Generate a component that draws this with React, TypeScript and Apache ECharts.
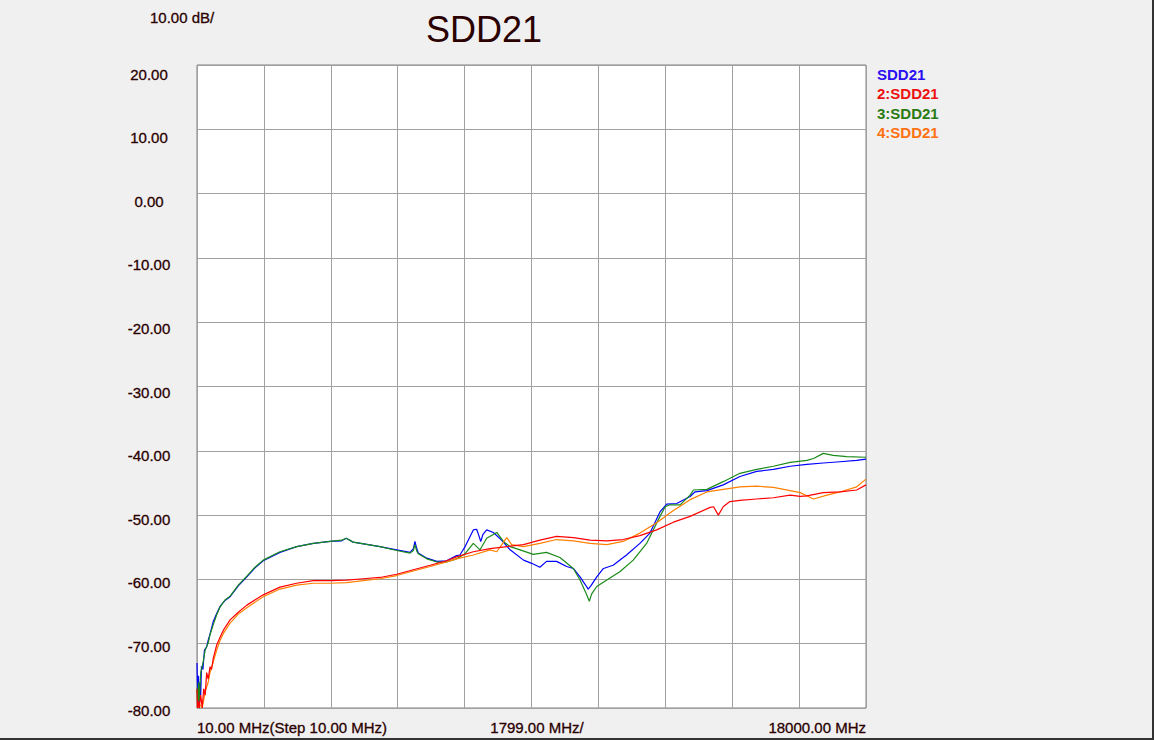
import React, { useEffect, useRef } from "react";
import * as echarts from "echarts";

// ---- axis / text definitions ----
const fStart = 10;
const fStop = 18000;
const fStep = 1799;
const yMin = -80;
const yMax = 20;
const yStep = 10;
const titleText = "SDD21";
const scaleText = "10.00 dB/";
const xLabels = ["10.00 MHz(Step 10.00 MHz)", "1799.00 MHz/", "18000.00 MHz"];
const seriesNames = ["SDD21", "2:SDD21", "3:SDD21", "4:SDD21"];
const seriesColors = ["#0000ff", "#ff0000", "#1a8a1a", "#ff8000"];
const legendColors = ["#2a10f0", "#ee1010", "#2a7a12", "#ff7010"];

// ---- data: [frequency MHz, dB] ----
const sdd21: [number, number][] = [
  [10, -73], [30, -79.5], [50, -75], [70, -80], [90, -76], [110, -78], [130, -73.5],
  [170, -74], [210, -71], [270, -70.5], [310, -69.5], [360, -68.5], [450, -66.5],
  [540, -65.3], [630, -64.2], [760, -63.3], [900, -62.7], [1120, -61], [1350, -59.6],
  [1570, -58.2], [1790, -57.1], [2240, -55.8], [2690, -54.9], [3140, -54.4], [3590, -54.1],
  [3900, -54], [4020, -53.6], [4210, -54.2], [4930, -54.9], [5380, -55.4], [5740, -55.8],
  [5830, -55.2], [5870, -54.1], [5920, -55.2], [5960, -55.9], [6190, -56.7], [6460, -57.2],
  [6720, -57.1], [6990, -56.3], [7080, -56.2], [7220, -54.9], [7440, -52.3], [7530, -52.2],
  [7590, -53.2], [7640, -54.1], [7700, -53.0], [7800, -52.3], [7980, -52.7], [8200, -53.9],
  [8430, -55.4], [8790, -57.0], [9010, -57.5], [9230, -58.1], [9410, -57.2], [9680, -57.2],
  [9950, -58.0], [10130, -58.3], [10310, -59.6], [10450, -60.8], [10530, -61.5], [10600, -61.0],
  [10760, -59.6], [10940, -58.3], [11200, -57.8], [11560, -56.2], [11920, -54.4], [12190, -52.8],
  [12460, -49.5], [12640, -48.3], [12910, -48.2], [13270, -47.1], [13400, -46.4], [13720, -46.2],
  [14160, -45.3], [14610, -44.0], [15060, -43.2], [15510, -42.9], [15960, -42.4], [16410, -42.1],
  [16850, -41.9], [17300, -41.7], [17750, -41.5], [18000, -41.3],
];

const sdd21_2: [number, number][] = [
  [10, -77], [20, -80], [50, -79], [70, -80], [110, -78], [150, -80], [190, -77], [230, -78],
  [270, -74.5], [310, -75.5], [360, -73.6], [400, -74], [450, -72.2], [540, -70.2], [630, -69],
  [720, -67.9], [900, -66.3], [1120, -65.1], [1350, -64.0], [1620, -63.0], [1790, -62.4],
  [2240, -61.2], [2690, -60.6], [3140, -60.2], [3590, -60.2], [4030, -60.1], [4480, -59.9],
  [4930, -59.7], [5380, -59.2], [5830, -58.5], [6280, -57.8], [6720, -57.1], [6990, -56.5],
  [7440, -55.7], [7890, -55.2], [8340, -54.9], [8790, -54.6], [9230, -53.9], [9680, -53.3],
  [10130, -53.5], [10580, -53.9], [11030, -54.0], [11470, -53.8], [11920, -53.2], [12370, -52.3],
  [12820, -51.1], [13270, -50.2], [13810, -48.8], [13900, -48.7], [14030, -50.0], [14160, -48.7],
  [14340, -47.9], [14610, -47.7], [15060, -47.5], [15510, -47.3], [15960, -46.9], [16230, -47.1],
  [16410, -47.0], [16850, -46.5], [17300, -46.4], [17750, -46.1], [18000, -45.3],
];

const sdd21_3: [number, number][] = [
  [10, -77], [30, -80], [50, -76], [70, -79], [110, -74.5], [170, -73], [230, -71],
  [310, -69.9], [360, -68.6], [450, -67.0], [540, -65.5], [630, -64.3], [760, -63.2],
  [900, -62.6], [1120, -60.9], [1350, -59.5], [1570, -58.1], [1790, -57.0], [2240, -55.7],
  [2690, -54.9], [3140, -54.4], [3590, -54.1], [3900, -53.9], [4020, -53.6], [4210, -54.2],
  [4930, -54.9], [5380, -55.5], [5740, -55.9], [5830, -55.5], [5870, -54.6], [5920, -55.6],
  [5960, -56.0], [6190, -56.8], [6460, -57.3], [6720, -57.3], [6990, -56.8], [7220, -56.0],
  [7440, -54.4], [7620, -55.4], [7800, -53.6], [8070, -52.7], [8250, -54.1], [8430, -54.9],
  [8700, -55.4], [9050, -56.1], [9410, -55.8], [9770, -56.6], [10130, -58.3], [10310, -60.1],
  [10490, -62.4], [10560, -63.4], [10620, -62.3], [10760, -61.1], [11030, -60.1], [11380, -58.8],
  [11740, -57.0], [12100, -54.4], [12460, -50.2], [12600, -48.7], [12730, -48.4], [13000, -48.4],
  [13270, -46.9], [13360, -46.1], [13720, -46.0], [14160, -44.8], [14610, -43.5], [15060, -42.9],
  [15510, -42.4], [15960, -41.8], [16410, -41.5], [16590, -41.2], [16850, -40.4], [17120, -40.7],
  [17480, -40.9], [18000, -41.0],
];

const sdd21_4: [number, number][] = [
  [10, -80], [90, -79.5], [150, -80], [230, -77.5], [310, -76], [360, -74.5], [450, -72.8],
  [540, -71], [630, -69.5], [720, -68.4], [900, -66.8], [1120, -65.4], [1350, -64.4],
  [1790, -62.7], [2240, -61.5], [2690, -60.9], [3140, -60.6], [3590, -60.6], [4030, -60.5],
  [4480, -60.2], [4930, -59.9], [5380, -59.4], [5830, -58.7], [6280, -58.0], [6720, -57.3],
  [6990, -56.8], [7440, -56.2], [7890, -55.4], [8070, -55.7], [8340, -53.5], [8470, -54.6],
  [8790, -54.9], [9230, -54.4], [9680, -53.8], [10130, -54.0], [10580, -54.4], [11030, -54.6],
  [11470, -54.1], [11920, -52.8], [12370, -51.2], [12820, -49.3], [13270, -47.6], [13720, -46.4],
  [14160, -46.0], [14610, -45.6], [15060, -45.5], [15510, -45.7], [15960, -46.2], [16230, -46.5],
  [16590, -47.5], [16950, -46.9], [17300, -46.4], [17750, -45.6], [18000, -44.4],
];

const allSeries = [sdd21, sdd21_2, sdd21_3, sdd21_4];

const FONT = "'Liberation Sans', Arial, sans-serif";
const TEXT_COLOR = "#2a0000";

export default function App() {
  const ref = useRef<HTMLDivElement>(null);

  useEffect(() => {
    if (!ref.current) return;
    const chart = echarts.init(ref.current, null, { renderer: "svg" });

    const plotLeft = 197;
    const plotTop = 65;
    const plotW = 669;
    const plotH = 643;

    const smallText = (text: string, x: number, y: number, align: string) => ({
      type: "text",
      x,
      y,
      style: {
        text,
        fill: TEXT_COLOR,
        font: `15px ${FONT}`,
        textAlign: align,
        textVerticalAlign: "middle",
        stroke: TEXT_COLOR,
        lineWidth: 0.3,
      },
    });

    const legendTexts = seriesNames.map((name, i) => ({
      type: "text",
      x: 877,
      y: 74 + i * 19.5,
      style: {
        text: name,
        fill: legendColors[i],
        font: `bold 15px ${FONT}`,
        textAlign: "left",
        textVerticalAlign: "middle",
      },
    }));

    chart.setOption({
      animation: false,
      backgroundColor: "#f0f0f0",
      grid: [
        {
          left: plotLeft,
          top: plotTop,
          width: plotW,
          height: plotH,
          show: true,
          backgroundColor: "#ffffff",
          borderColor: "#808080",
          borderWidth: 1,
        },
        {
          left: plotLeft,
          top: 74,
          width: plotW,
          height: 636,
          show: false,
        },
      ],
      xAxis: [
        {
          type: "value",
          gridIndex: 0,
          min: 0,
          max: fStop - fStart,
          interval: fStep,
          axisLine: { show: false },
          axisTick: { show: false },
          axisLabel: { show: false },
          splitLine: { show: true, lineStyle: { color: "#a0a0a0", width: 1 } },
        },
        { type: "value", gridIndex: 1, min: 0, max: 1, show: false },
      ],
      yAxis: [
        {
          type: "value",
          gridIndex: 0,
          min: yMin,
          max: yMax,
          interval: yStep,
          axisLine: { show: false },
          axisTick: { show: false },
          axisLabel: { show: false },
          splitLine: { show: true, lineStyle: { color: "#a0a0a0", width: 1 } },
        },
        {
          type: "value",
          gridIndex: 1,
          min: yMin,
          max: yMax,
          interval: yStep,
          axisLine: { show: false },
          axisTick: { show: false },
          splitLine: { show: false },
          axisLabel: {
            show: true,
            margin: 48,
            align: "center",
            color: TEXT_COLOR,
            fontSize: 15,
            fontFamily: FONT,
            textBorderColor: TEXT_COLOR,
            textBorderWidth: 0.3,
            formatter: (v: number) => v.toFixed(2),
          },
        },
      ],
      series: allSeries.map((s, i) => ({
        name: seriesNames[i],
        type: "line",
        xAxisIndex: 0,
        yAxisIndex: 0,
        showSymbol: false,
        symbol: "none",
        silent: true,
        z: i === 1 ? 4 : 3,
        lineStyle: { color: seriesColors[i], width: 1.2 },
        itemStyle: { color: seriesColors[i] },
        data: s.map(([f, v]) => [f - fStart, v]),
      })),
      graphic: [
        {
          type: "text",
          x: 484,
          y: 29,
          style: {
            text: titleText,
            fill: TEXT_COLOR,
            font: `36px ${FONT}`,
            textAlign: "center",
            textVerticalAlign: "middle",
          },
        },
        smallText(scaleText, 150, 17, "left"),
        smallText(xLabels[0], plotLeft, 727, "left"),
        smallText(xLabels[1], 537, 727, "center"),
        smallText(xLabels[2], plotLeft + plotW, 727, "right"),
        ...legendTexts,
        {
          type: "rect",
          shape: { x: 0, y: 738, width: 1154, height: 2 },
          style: { fill: "#333333" },
        },
        {
          type: "rect",
          shape: { x: 1152, y: 0, width: 2, height: 740 },
          style: { fill: "#333333" },
        },
      ],
    });

    return () => chart.dispose();
  }, []);

  return (
    <div
      ref={ref}
      style={{
        position: "fixed",
        left: 0,
        top: 0,
        width: 1154,
        height: 740,
      }}
    />
  );
}
